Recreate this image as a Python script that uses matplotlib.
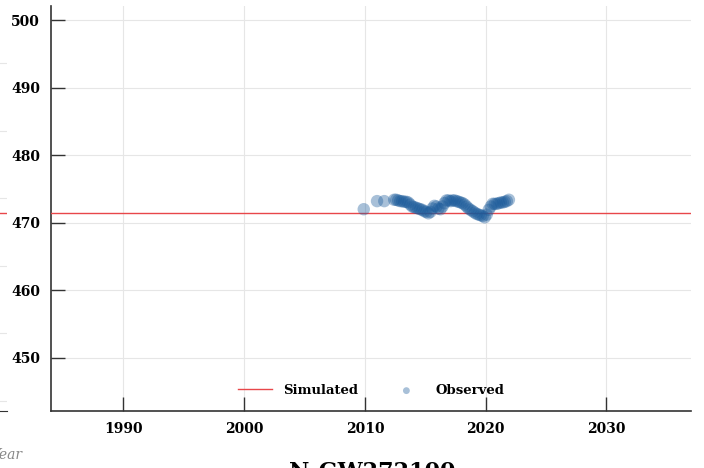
import matplotlib
matplotlib.use("Agg")
import matplotlib.pyplot as plt
import numpy as np

# observed groundwater level (decimal year, level)
obs_years = [2009.9, 2011.0, 2011.6,
             2012.42, 2012.58, 2012.75, 2012.92, 2013.08, 2013.25, 2013.42, 2013.58,
             2013.75, 2013.92, 2014.08, 2014.25, 2014.42, 2014.58, 2014.75, 2014.92,
             2015.08, 2015.25, 2015.42, 2015.58, 2015.75, 2015.92, 2016.08, 2016.25,
             2016.42, 2016.58, 2016.75, 2016.92, 2017.08, 2017.25, 2017.42, 2017.58,
             2017.75, 2017.92, 2018.08, 2018.25, 2018.42, 2018.58, 2018.75, 2018.92,
             2019.08, 2019.25, 2019.42, 2019.58, 2019.75, 2019.92, 2020.08, 2020.25,
             2020.42, 2020.58, 2020.75, 2020.92, 2021.08, 2021.25, 2021.42, 2021.58,
             2021.75, 2021.92]
obs_level = [472.0, 473.2, 473.2,
             473.4, 473.4, 473.3, 473.2, 473.2, 473.1, 473.1, 473.0,
             472.7, 472.4, 472.3, 472.2, 472.1, 472.0, 471.9, 471.7,
             471.6, 471.4, 471.6, 472.1, 472.5, 472.4, 472.1, 472.0,
             472.4, 472.9, 473.3, 473.3, 473.2, 473.3, 473.3, 473.2,
             473.1, 473.0, 472.9, 472.7, 472.4, 472.1, 471.9, 471.7,
             471.5, 471.3, 471.2, 471.1, 471.0, 470.8, 471.2, 471.9,
             472.4, 472.8, 472.8, 472.8, 472.9, 473.0, 473.0, 473.1,
             473.2, 473.4]

# simulated level (constant)
sim_years = [1980, 2040]
sim_level = [471.5, 471.5]

xticks = [1990, 2000, 2010, 2020, 2030]
yticks = [450, 460, 470, 480, 490, 500]
title = "N-GW272100"

plt.rcParams['font.family'] = ['DejaVu Serif']
fig = plt.figure(figsize=(7.04, 4.68), dpi=100)

# fragment of neighbouring panel on the left
axl = fig.add_axes([-0.5, 0.1218, 0.51, 0.8652])
axl.plot(sim_years, sim_level, c='#e8474a', lw=1)
axl.set_xlim(1984, 2037)
axl.set_ylim(442.1, 502.1)
axl.set_yticks([443.6, 453.6, 463.6, 473.6, 483.6, 493.6])
axl.grid(axis='y', color='#e6e6e6', lw=0.8)
axl.tick_params(left=False, bottom=False, labelleft=False, labelbottom=False)
for s in ['top', 'right', 'left']:
  axl.spines[s].set_visible(False)
axl.spines['bottom'].set_color('#333333')
fig.text(22/704, 1-455/468, "Year", ha='right', va='center',
         style='italic', color='#888888', fontsize=10)

ax = fig.add_axes([51/704, 0.1218, 640/704, 0.8652])
ax.plot(sim_years, sim_level, c='#e8474a', lw=1, label='Simulated', zorder=3)
ax.scatter(obs_years, obs_level, s=80, c='#1a5a9a', alpha=0.38,
           edgecolors='none', label='Observed', zorder=4)

ax.set_xlim(1984, 2037)
ax.set_ylim(442.1, 502.1)
ax.set_xticks(xticks)
ax.set_yticks(yticks)
ax.grid(color='#e6e6e6', lw=0.8)
ax.set_axisbelow(True)
ax.tick_params(direction='in', length=10, width=1, color='#333333', pad=8,
               labelsize=10)
for lab in ax.get_xticklabels() + ax.get_yticklabels():
  lab.set_fontweight('bold')
for s in ['top', 'right']:
  ax.spines[s].set_visible(False)
for s in ['left', 'bottom']:
  ax.spines[s].set_color('#333333')
  ax.spines[s].set_linewidth(1.2)

leg = ax.legend(loc='lower center', bbox_to_anchor=(0.5, 0.005), ncol=2,
                frameon=False, prop={'weight': 'bold', 'size': 9.5},
                columnspacing=2.35, handlelength=2.55, handletextpad=0.9,
                markerscale=0.55)

fig.text(372/704, 1-478/468, title, ha='center', va='baseline',
         fontsize=16, fontweight='bold')

plt.savefig('out.png', dpi=100)
